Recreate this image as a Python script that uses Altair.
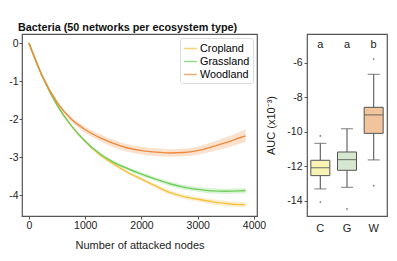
import altair as alt
import pandas as pd

# ---- line panel data ----
nodes = [0, 250, 500, 750, 1000, 1250, 1500, 1750, 2000, 2250, 2500, 2750, 3000, 3250, 3500, 3750, 3850]
cropland = [0, -0.92, -1.63, -2.17, -2.59, -2.93, -3.18, -3.40, -3.58, -3.76, -3.93, -4.04, -4.11, -4.17, -4.22, -4.25, -4.25]
grassland = [0, -0.92, -1.63, -2.17, -2.58, -2.90, -3.13, -3.30, -3.45, -3.58, -3.70, -3.79, -3.85, -3.89, -3.90, -3.89, -3.88]
woodland = [0, -0.90, -1.56, -2.00, -2.28, -2.48, -2.64, -2.76, -2.83, -2.87, -2.89, -2.88, -2.83, -2.73, -2.62, -2.49, -2.44]
crop_ci = [0, 0.01, 0.02, 0.02, 0.03, 0.03, 0.04, 0.04, 0.05, 0.05, 0.06, 0.06, 0.06, 0.07, 0.07, 0.07, 0.07]
grass_ci = [0, 0.01, 0.02, 0.02, 0.03, 0.03, 0.04, 0.04, 0.05, 0.05, 0.06, 0.06, 0.06, 0.07, 0.07, 0.07, 0.07]
wood_ci = [0, 0.02, 0.04, 0.06, 0.08, 0.09, 0.10, 0.10, 0.10, 0.10, 0.10, 0.10, 0.11, 0.12, 0.14, 0.16, 0.17]
series_names = ["Cropland", "Grassland", "Woodland"]
series_colors = ["#F5C242", "#6DCF5A", "#EE8A3C"]

# ---- box panel data ----
groups = ["C", "G", "W"]
q1 = [-12.53, -12.22, -10.08]
q3 = [-11.64, -11.16, -8.57]
median = [-12.07, -11.60, -9.01]
whisker_lo = [-13.30, -13.21, -11.62]
whisker_hi = [-10.66, -9.81, -6.66]
outlier_group = ["C", "C", "G", "W", "W"]
outlier_val = [-10.23, -14.06, -14.46, -5.77, -13.11]
letters = ["a", "a", "b"]
box_fills = ["#F6F3B5", "#D5E8CF", "#F2C49B"]

rows = []
for name, vals, ci in zip(series_names, [cropland, grassland, woodland], [crop_ci, grass_ci, wood_ci]):
    for x, v, c in zip(nodes, vals, ci):
        rows.append({"series": name, "x": x, "y": v, "lo": v - c, "hi": v + c})
ldf = pd.DataFrame(rows)

FONT = "Liberation Sans"

xs = alt.Scale(domain=[-124, 4053], nice=False, zero=False)
ys = alt.Scale(domain=[-4.55, 0.24], nice=False, zero=False)
cscale = alt.Scale(domain=series_names, range=series_colors)

band = alt.Chart(ldf).mark_area(fillOpacity=0.25, interpolate="monotone").encode(
    x=alt.X("x:Q", scale=xs),
    y=alt.Y("lo:Q", scale=ys),
    y2="hi:Q",
    color=alt.Color("series:N", scale=cscale),
)
lines = alt.Chart(ldf).mark_line(strokeWidth=1.4, interpolate="monotone").encode(
    x=alt.X("x:Q", scale=xs, title="Number of attacked nodes",
            axis=alt.Axis(values=list(range(0, 4001, 500)),
                          labelExpr="datum.value % 1000 == 0 ? '' + datum.value : ''",
                          titlePadding=9, labelPadding=1)),
    y=alt.Y("y:Q", scale=ys, title=None,
            axis=alt.Axis(values=[-4, -3, -2, -1, 0], labelExpr="'' + datum.value", labelPadding=1)),
    color=alt.Color("series:N", scale=cscale,
                    legend=alt.Legend(title=None, orient="top-right", offset=4,
                                      fillColor="white", strokeColor="#DDDDDD", padding=3,
                                      symbolType="stroke", symbolSize=170, symbolStrokeWidth=1.5,
                                      symbolOpacity=0.7, labelFontSize=10.8, labelFont=FONT,
                                      rowPadding=-3, labelOffset=2, cornerRadius=2)),
)
left = alt.layer(band, lines).properties(width=235, height=182)

bdf = pd.DataFrame({"g": groups, "q1": q1, "q3": q3, "med": median,
                    "lo": whisker_lo, "hi": whisker_hi, "letter": letters,
                    "fill": box_fills})
odf = pd.DataFrame({"g": outlier_group, "v": outlier_val})

bx = alt.Scale(domain=groups, paddingInner=0, paddingOuter=0)
by = alt.Scale(domain=[-14.87, -4.32], nice=False, zero=False)

xenc = alt.X("g:N", scale=bx, title=None,
             axis=alt.Axis(labelAngle=0, ticks=False, labelPadding=6, labelFontSize=11))
base = alt.Chart(bdf)
whisk = base.mark_rule(color="#666666", strokeWidth=1.2).encode(
    x=xenc,
    y=alt.Y("lo:Q", scale=by, title="AUC (x10⁻³)",
            axis=alt.Axis(values=[-14, -12, -10, -8, -6], labelExpr="'' + datum.value",
                          labelPadding=2, titlePadding=10)),
    y2="hi:Q")
caps_lo = base.mark_tick(color="#666666", size=12, thickness=1.2).encode(x=xenc, y=alt.Y("lo:Q", scale=by))
caps_hi = base.mark_tick(color="#666666", size=12, thickness=1.2).encode(x=xenc, y=alt.Y("hi:Q", scale=by))
boxes = base.mark_bar(size=19, stroke="#555555", strokeWidth=1).encode(
    x=xenc, y=alt.Y("q1:Q", scale=by), y2="q3:Q",
    fill=alt.Fill("fill:N", scale=None))
meds = base.mark_tick(color="#555555", size=19, thickness=1.2).encode(x=xenc, y=alt.Y("med:Q", scale=by))
outs = alt.Chart(odf).mark_circle(size=3, color="#777777", opacity=1).encode(
    x=xenc, y=alt.Y("v:Q", scale=by))
lets = base.mark_text(fontSize=11, font=FONT, color="#222222").encode(
    x=xenc, y=alt.datum(-4.95), text="letter:N")
right = alt.layer(whisk, caps_lo, caps_hi, boxes, meds, outs, lets).properties(width=80, height=182)

chart = alt.hconcat(left, right, spacing=50, bounds="flush").resolve_scale(
    color="independent"
).resolve_legend(color="independent").properties(
    title=alt.TitleParams("Bacteria (50 networks per ecosystem type)", anchor="start",
                          fontSize=10.8, fontWeight="bold", font=FONT, offset=1, dx=10,
                          color="#111111"),
    padding={"left": 0, "top": 13, "right": 0, "bottom": 0},
).configure_view(stroke="#555555", strokeWidth=1.2).configure_axis(
    grid=False, domain=False, tickSize=3, tickColor="#555555", labelFont=FONT, titleFont=FONT,
    labelFontSize=10.5, titleFontSize=11, titleFontWeight="normal", labelColor="#222222",
    titleColor="#222222",
).configure_scale(bandPaddingInner=0)

chart.save("out.html", embed_options={"renderer": "svg", "actions": False})
